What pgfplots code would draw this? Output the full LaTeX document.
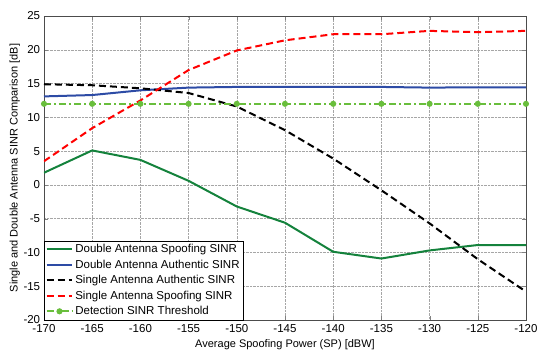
\documentclass[border=0pt]{standalone}
\usepackage{fontspec}
\setmainfont{Liberation Sans}
\usepackage{pgfplots}
\pgfplotsset{compat=1.18}
\definecolor{dgreen}{RGB}{20,130,60}
\definecolor{dblue}{RGB}{45,75,165}
\definecolor{lgreen}{RGB}{105,190,60}
\begin{document}
\fontsize{11}{13}\selectfont
\begin{tikzpicture}
\begin{axis}[name=ax,
  width=482pt, height=304pt, scale only axis,
  xmin=-170, xmax=-120, ymin=-20, ymax=25,
  xtick={-170,-165,...,-120}, ytick={-20,-15,...,25},
  grid=major, grid style={densely dotted, gray!70},
  tick align=inside, tick pos=both,
  major tick length=4pt,
  /pgf/number format/assume math mode=true,
  ticklabel style={font=\fontsize{11.5}{13}\selectfont},
  xticklabel style={yshift=-1pt},
  xlabel={Average Spoofing Power (SP) [dBW]},
  ylabel={Single and Double Antenna SINR Comparison [dB]},
  label style={font=\fontsize{11}{13}\selectfont},
  xlabel style={yshift=1pt},
  ylabel style={yshift=-4pt},
  axis line style={black!70},
  legend cell align=left,
  legend image code/.code={\draw[mark repeat=2,mark phase=2] plot coordinates {(0cm,0cm) (0.45cm,0cm) (0.9cm,0cm)};},
  legend style={font=\fontsize{11.5}{13}\selectfont, draw=black, inner sep=1.5pt, row sep=1.5pt, at={(0,0)}, anchor=south west},
]
\addplot[dgreen, line width=2pt] coordinates {(-170,1.8) (-165,5.1) (-160,3.7) (-155,0.6) (-150,-3.2) (-145,-5.6) (-140,-9.9) (-135,-10.9) (-130,-9.7) (-125,-8.9) (-120,-8.9)};
\addlegendentry{Double Antenna Spoofing SINR}
\addplot[dblue, line width=2pt] coordinates {(-170,13.1) (-165,13.3) (-160,14.0) (-155,14.4) (-150,14.5) (-145,14.5) (-140,14.5) (-135,14.5) (-130,14.4) (-125,14.45) (-120,14.45)};
\addlegendentry{Double Antenna Authentic SINR}
\addplot[black, line width=2pt, dash pattern=on 7pt off 4pt] coordinates {(-170,14.9) (-165,14.75) (-160,14.3) (-155,13.6) (-150,11.6) (-145,8.1) (-140,3.9) (-135,-0.8) (-130,-5.7) (-125,-11.0) (-120,-15.8)};
\addlegendentry{Single Antenna Authentic SINR}
\addplot[red, line width=2pt, dash pattern=on 7pt off 4pt] coordinates {(-170,3.5) (-165,8.4) (-160,12.5) (-155,17.0) (-150,19.9) (-145,21.4) (-140,22.3) (-135,22.3) (-130,22.8) (-125,22.6) (-120,22.8)};
\addlegendentry{Single Antenna Spoofing SINR}
\addplot[lgreen, line width=2pt, dash pattern=on 7pt off 3pt on 2pt off 3pt, mark=*, mark size=2pt, mark options={solid}] coordinates {(-170,12) (-165,12) (-160,12) (-155,12) (-150,12) (-145,12) (-140,12) (-135,12) (-130,12) (-125,12) (-120,12)};
\addlegendentry{Detection SINR Threshold}
\end{axis}
\pgfresetboundingbox
\useasboundingbox ([shift={(-44pt,-34pt)}]ax.south west) rectangle ([shift={(14pt,16pt)}]ax.north east);
\end{tikzpicture}
\end{document}
